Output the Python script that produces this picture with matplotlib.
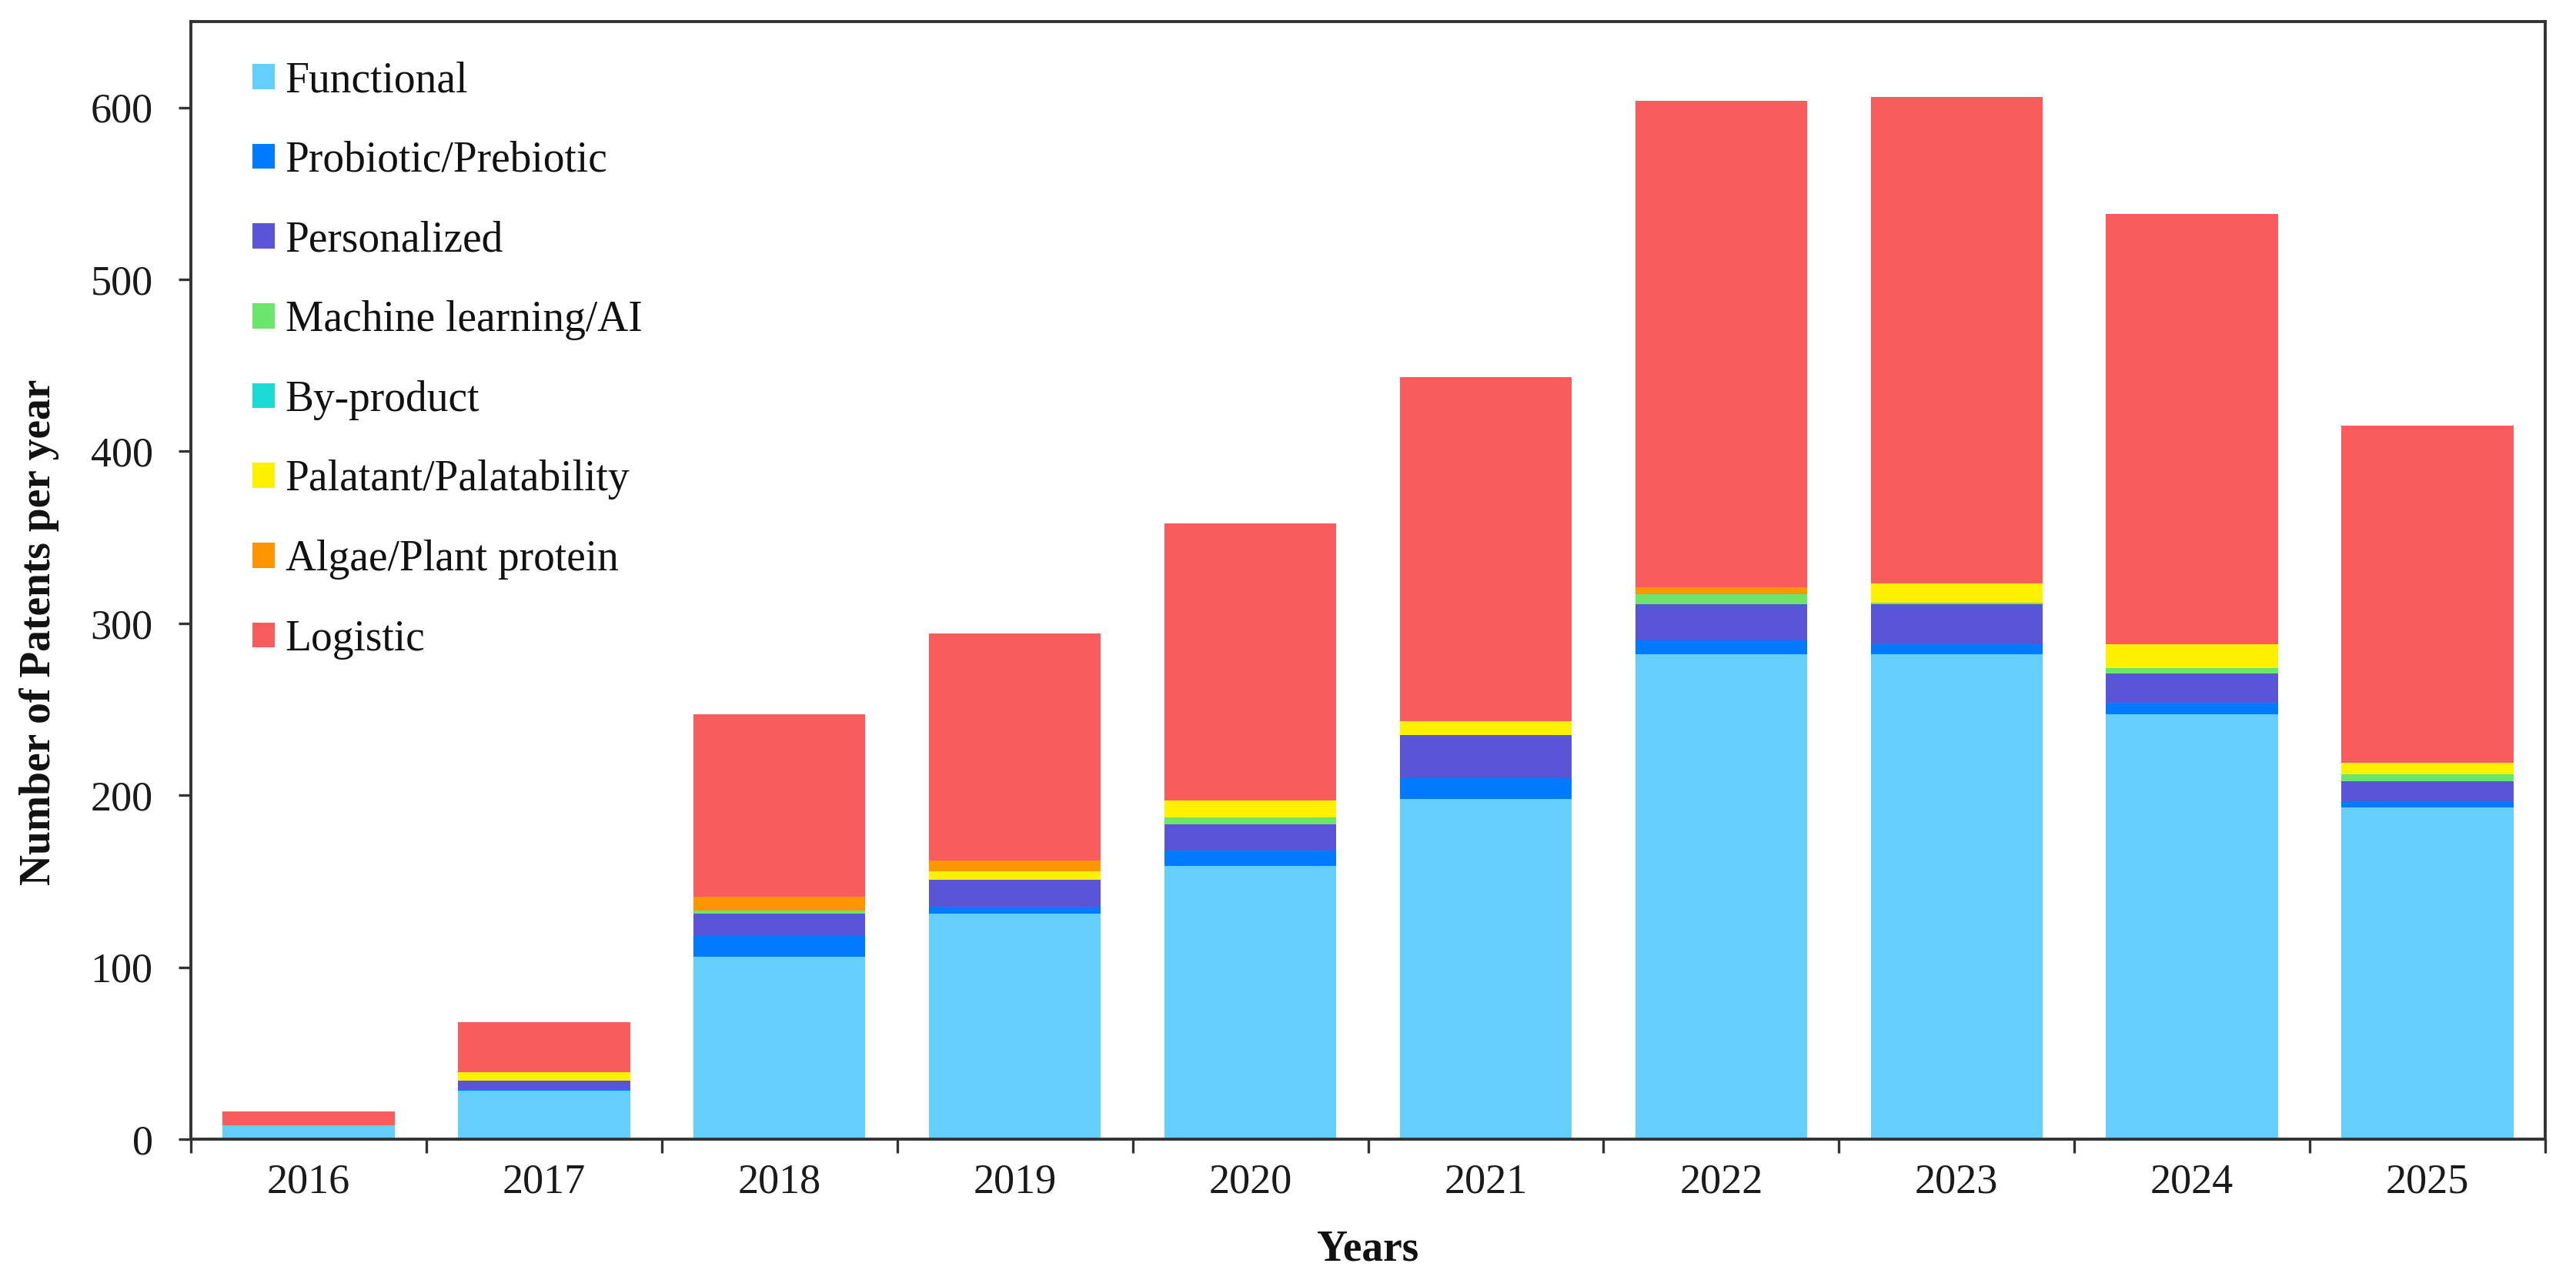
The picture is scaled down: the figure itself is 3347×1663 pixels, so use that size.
import matplotlib
matplotlib.use("Agg")
import matplotlib.pyplot as plt
import numpy as np

years = ["2016", "2017", "2018", "2019", "2020", "2021", "2022", "2023", "2024", "2025"]
categories = ["Functional", "Probiotic/Prebiotic", "Personalized", "Machine learning/AI",
              "By-product", "Palatant/Palatability", "Algae/Plant protein", "Logistic"]

functional  = [8, 28, 106, 131, 159, 198, 282, 282, 247, 193]
probiotic   = [0, 1, 12, 4, 9, 12, 8, 6, 7, 3]
personalized= [0, 5, 13, 16, 15, 25, 21, 23, 17, 12]
ml_ai       = [0, 0, 2, 0, 4, 0, 6, 1, 3, 4]
byproduct   = [0, 0, 0, 0, 0, 0, 0, 0, 0, 0]
palatant    = [0, 5, 0, 5, 10, 8, 0, 11, 14, 7]
algae       = [0, 0, 8, 6, 0, 0, 4, 0, 0, 0]
logistic    = [8, 29, 106, 132, 161, 200, 283, 283, 250, 196]

colors = ["#64CFFC", "#007AFF", "#5A55D6", "#6CE56C", "#1CDAD6", "#FFF100", "#FF9500", "#F95C5C"]

series = [functional, probiotic, personalized, ml_ai, byproduct, palatant, algae, logistic]

plt.rcParams['font.family'] = ['Liberation Serif', 'DejaVu Serif']

W, H = 3348, 1663
fig = plt.figure(figsize=(W / 100, H / 100), dpi=100)
ax_l, ax_r, ax_t, ax_b = 248, 3307, 28, 1480
ax = fig.add_axes([ax_l / W, 1 - ax_b / H, (ax_r - ax_l) / W, (ax_b - ax_t) / H])

x = np.arange(len(years))
bottom = np.zeros(len(years))
handles = []
for vals, col, lab in zip(series, colors, categories):
    v = np.array(vals, dtype=float)
    b = ax.bar(x, v, width=0.73, bottom=bottom, color=col, label=lab, linewidth=0, zorder=2)
    handles.append(b)
    bottom += v

ax.set_xlim(-0.5, len(years) - 0.5)
ax.set_ylim(0, 650)
ax.set_yticks([0, 100, 200, 300, 400, 500, 600])
ax.set_xticks(x)
ax.set_xticklabels(years)
ax.set_xticks(np.arange(-0.5, len(years), 1.0), minor=True)

spine_col = "#333333"
for s in ax.spines.values():
    s.set_linewidth(2.8)
    s.set_color(spine_col)
    s.set_zorder(3)

ax.tick_params(axis='x', which='major', length=0, pad=22, labelsize=39, colors='#1a1a1a')
ax.tick_params(axis='x', which='minor', length=13, width=2.4, direction='out', color=spine_col)
ax.tick_params(axis='y', which='major', length=11.5, width=2.4, direction='out', pad=24,
               labelsize=39, color=spine_col, labelcolor='#1a1a1a')

ax.set_xlabel("Years", fontsize=40, fontweight='bold', color='#111111')
ax.xaxis.set_label_coords(0.5, -(1623 - ax_b) / (ax_b - ax_t), transform=ax.transAxes)
ax.xaxis.label.set_va('center')
ax.set_ylabel("Number of Patents per year", fontsize=40, fontweight='bold', color='#111111')
ax.yaxis.set_label_coords(-(ax_l - 51) / (ax_r - ax_l), (ax_b - 821) / (ax_b - ax_t), transform=ax.transAxes)
ax.yaxis.label.set_va('center')

leg = ax.legend(handles=handles, labels=categories, loc='upper left',
                bbox_to_anchor=((328 - ax_l) / (ax_r - ax_l), (ax_b - 79) / (ax_b - ax_t)),
                frameon=False, fontsize=40, handlelength=0.52, handleheight=0.52,
                handletextpad=0.25, labelspacing=0.93, borderpad=0, borderaxespad=0)
for t in leg.get_texts():
    t.set_color('#111111')

fig.savefig("out.png", dpi=100, facecolor='white')
